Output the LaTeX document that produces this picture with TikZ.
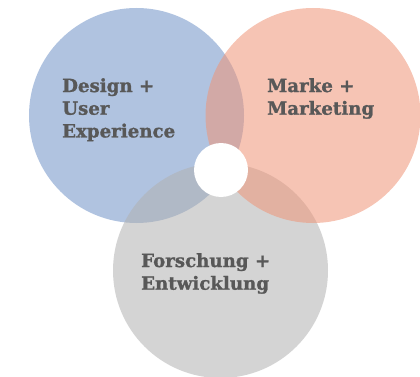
\documentclass[tikz,border=0pt]{standalone}
\usepackage{fontspec}
\setmainfont{DejaVu Serif}[BoldFeatures={FakeBold=1.2}]
\usetikzlibrary{positioning}

\definecolor{designblue}{RGB}{111,146,199}
\definecolor{markeorange}{RGB}{239,148,119}
\definecolor{forschgray}{RGB}{177,177,177}
\definecolor{textgray}{RGB}{88,88,88}

\begin{document}
\begin{tikzpicture}[x=1pt,y=-1pt,inner sep=0pt]
	\tikzstyle{bubble}=[circle,minimum size=215pt,draw=none,fill opacity=0.55]
	\tikzstyle{areatext}=[align=left,anchor=north west,text=textgray,font=\bfseries\fontsize{18.2}{22.7}\selectfont]

	\useasboundingbox (0,0) rectangle (420,377);

	\node[bubble,fill=designblue] (design) at (136.5,115.5) {};
	\node[bubble,fill=forschgray] (forsch) at (220.5,270.5) {};
	\node[bubble,fill=markeorange] (marke) at (313,115.5) {};
	\node[circle,fill=white,minimum size=54pt] (mitte) at (221,170) {};

	\node[areatext] (designtext) at (62,78) {Design +\\User\\Experience};
	\node[areatext] (marketext) at (267,78) {Marke +\\Marketing};
	\node[areatext] (forschtext) at (141,253) {Forschung +\\Entwicklung};
\end{tikzpicture}
\end{document}
